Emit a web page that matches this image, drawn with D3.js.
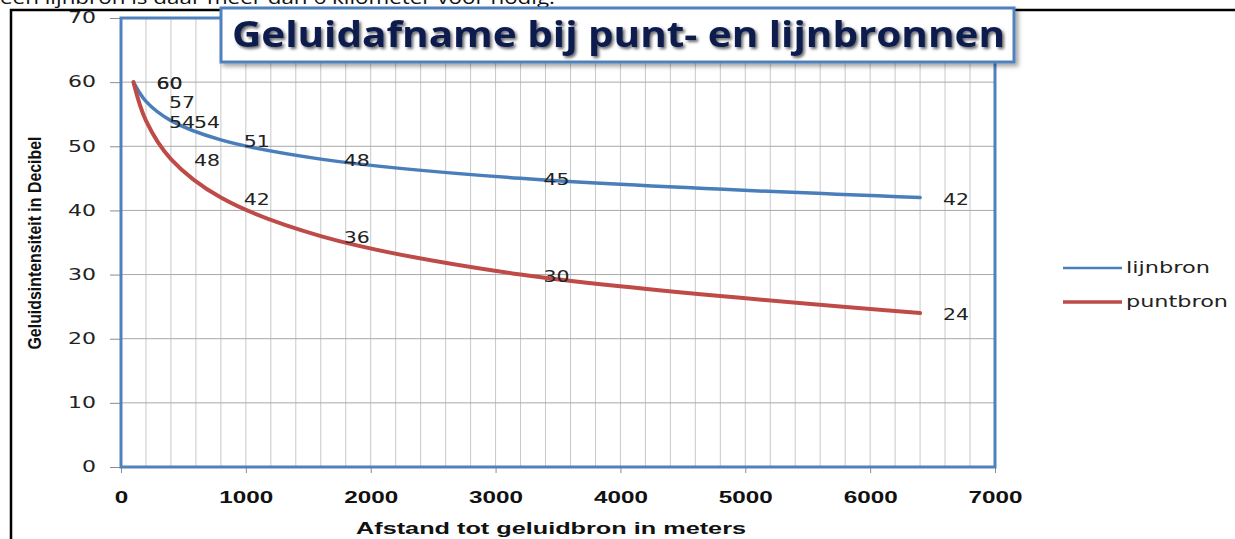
<!DOCTYPE html>
<html>
<head>
<meta charset="utf-8">
<script src="https://cdn.jsdelivr.net/npm/d3@7"></script>
<style>
  html, body { margin: 0; padding: 0; background: #fff; overflow: hidden; }
  svg { display: block; }
</style>
</head>
<body>
<svg id="chart"></svg>
<script>
const distances = [100, 200, 400, 800, 1600, 3200, 6400];
const lijnbron = [60, 57, 54, 51, 48, 45, 42];
const puntbron = [60, 54, 48, 42, 36, 30, 24];
const xTicks = [0, 1000, 2000, 3000, 4000, 5000, 6000, 7000];
const yTicks = [0, 10, 20, 30, 40, 50, 60, 70];
const seriesNames = ["lijnbron", "puntbron"];
const seriesColors = ["#4a7ebb", "#be4b48"];

const W = 1235, H = 539;
const svg = d3.select("#chart").attr("width", W).attr("height", H);

const defs = svg.append("defs");
const f1 = defs.append("filter").attr("id", "boxShadow")
  .attr("x", "-5%").attr("y", "-20%").attr("width", "110%").attr("height", "150%");
f1.append("feDropShadow").attr("dx", 3).attr("dy", 3).attr("stdDeviation", 2)
  .attr("flood-color", "#000").attr("flood-opacity", 0.35);
const f2 = defs.append("filter").attr("id", "textShadow")
  .attr("x", "-5%").attr("y", "-30%").attr("width", "110%").attr("height", "160%");
f2.append("feDropShadow").attr("dx", 2).attr("dy", 2).attr("stdDeviation", 1.5)
  .attr("flood-color", "#000").attr("flood-opacity", 0.6);

// page text cut off at the top (as in the screenshot)
svg.append("text")
  .attr("x", 0).attr("y", 4)
  .attr("textLength", 555).attr("lengthAdjust", "spacingAndGlyphs")
  .style("font-family", "'Open Sans', sans-serif").style("font-size", "18px")
  .attr("fill", "#111")
  .text("een lijnbron is daar meer dan 6 kilometer voor nodig.");

// black frame
svg.append("path")
  .attr("d", `M11,${H} L11,10 L${W},10`)
  .attr("fill", "none").attr("stroke", "#000").attr("stroke-width", 2.5);

const x = d3.scaleLinear().domain([0, 7000]).range([121, 995]);
const y = d3.scaleLinear().domain([0, 70]).range([467, 18]);

// gridlines
const grid = svg.append("g");
grid.selectAll(".vg")
  .data(d3.range(200, 7000, 200))
  .enter().append("line")
  .attr("x1", d => x(d)).attr("x2", d => x(d))
  .attr("y1", y(70)).attr("y2", y(0))
  .attr("stroke", "#c8c8c8").attr("stroke-width", 1);
grid.selectAll(".hg")
  .data(yTicks.filter(d => d > 0 && d < 70))
  .enter().append("line")
  .attr("x1", x(0)).attr("x2", x(7000))
  .attr("y1", d => y(d)).attr("y2", d => y(d))
  .attr("stroke", "#a8a8a8").attr("stroke-width", 1);

// axes
const yAxis = svg.append("g")
  .attr("transform", `translate(${x(0)},0)`)
  .call(d3.axisLeft(y).tickValues(yTicks).tickSize(11).tickPadding(14));
yAxis.select(".domain").remove();
yAxis.selectAll(".tick line").attr("stroke", "#8c8c8c");
yAxis.selectAll(".tick text")
  .style("font-family", "'DejaVu Sans', sans-serif").style("font-size", "15px")
  .attr("fill", "#222")
  .attr("textLength", d => String(d).length * 14).attr("lengthAdjust", "spacingAndGlyphs");

const xAxis = svg.append("g")
  .attr("transform", `translate(0,${y(0)})`)
  .call(d3.axisBottom(x).tickValues(xTicks).tickFormat(d3.format("d")).tickSize(6).tickPadding(18));
xAxis.select(".domain").remove();
xAxis.selectAll(".tick line").attr("stroke", "#8c8c8c");
xAxis.selectAll(".tick text")
  .style("font-family", "'Liberation Sans', sans-serif").style("font-size", "17px")
  .style("font-weight", "bold").attr("fill", "#111")
  .attr("textLength", d => String(d).length * 13.5).attr("lengthAdjust", "spacingAndGlyphs");

// plot area border
svg.append("rect")
  .attr("x", x(0)).attr("y", y(70))
  .attr("width", x(7000) - x(0)).attr("height", y(0) - y(70))
  .attr("fill", "none").attr("stroke", "#4f81bd").attr("stroke-width", 3);

// series lines (smoothed like the spreadsheet chart)
const line = d3.line()
  .x((d, i) => x(distances[i]))
  .y(d => y(d))
  .curve(d3.curveCatmullRom.alpha(0.5));

[lijnbron, puntbron].forEach((vals, s) => {
  svg.append("path")
    .datum(vals)
    .attr("d", line)
    .attr("fill", "none")
    .attr("stroke", seriesColors[s])
    .attr("stroke-width", s === 0 ? 3.5 : 4)
    .attr("stroke-linecap", "round");
});

// data labels
[lijnbron, puntbron].forEach(vals => {
  svg.append("g").selectAll("text")
    .data(vals)
    .enter().append("text")
    .attr("x", (d, i) => x(distances[i]) + 23)
    .attr("y", d => y(d) + 7)
    .attr("textLength", d => String(d).length * 13)
    .attr("lengthAdjust", "spacingAndGlyphs")
    .style("font-family", "'DejaVu Sans', sans-serif").style("font-size", "16px")
    .attr("fill", "#222")
    .text(d => d);
});

// axis titles
svg.append("text")
  .attr("transform", "translate(41,243) rotate(-90)")
  .attr("text-anchor", "middle")
  .attr("textLength", 213).attr("lengthAdjust", "spacingAndGlyphs")
  .style("font-family", "'Liberation Sans Narrow', 'Liberation Sans', sans-serif")
  .style("font-size", "18px").style("font-weight", "bold").attr("fill", "#111")
  .text("Geluidsintensiteit in Decibel");

svg.append("text")
  .attr("x", 551).attr("y", 534)
  .attr("text-anchor", "middle")
  .attr("textLength", 390).attr("lengthAdjust", "spacingAndGlyphs")
  .style("font-family", "'Liberation Sans', sans-serif")
  .style("font-size", "17px").style("font-weight", "bold").attr("fill", "#111")
  .text("Afstand  tot geluidbron in meters");

// title box
svg.append("rect")
  .attr("x", 221).attr("y", 8).attr("width", 793).attr("height", 54)
  .attr("fill", "#fff").attr("stroke", "#4f81bd").attr("stroke-width", 3)
  .attr("filter", "url(#boxShadow)");
svg.append("text")
  .attr("x", 232).attr("y", 47)
  .attr("textLength", 773).attr("lengthAdjust", "spacingAndGlyphs")
  .style("font-family", "'Open Sans', sans-serif")
  .style("font-size", "36px").style("font-weight", "bold")
  .attr("fill", "#0c1c4e").attr("filter", "url(#textShadow)")
  .text("Geluidafname bij punt- en lijnbronnen");

// legend
const legend = svg.append("g");
seriesNames.forEach((name, i) => {
  const ly = 268 + i * 34;
  legend.append("line")
    .attr("x1", 1063).attr("x2", 1122).attr("y1", ly).attr("y2", ly)
    .attr("stroke", seriesColors[i]).attr("stroke-width", i === 0 ? 2.5 : 3.5);
  legend.append("text")
    .attr("x", 1126).attr("y", ly + 5)
    .attr("textLength", i === 0 ? 84 : 102).attr("lengthAdjust", "spacingAndGlyphs")
    .style("font-family", "'DejaVu Sans', sans-serif").style("font-size", "16px")
    .attr("fill", "#222")
    .text(name);
});
</script>
</body>
</html>
